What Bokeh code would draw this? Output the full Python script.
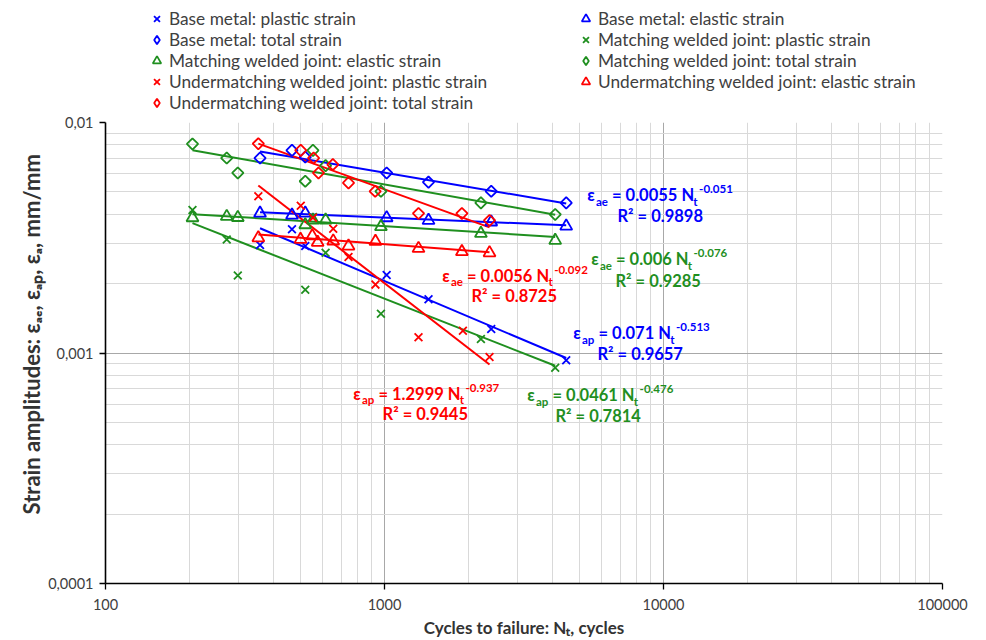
import numpy as np
from bokeh.plotting import figure
from bokeh.layouts import column
from bokeh.models import Label, Legend, LegendItem, FixedTicker, CustomJSTickFormatter
from bokeh.embed import file_html
from bokeh.resources import INLINE

# ---------------- data ----------------
base_n = [358, 466, 520, 1018, 1438, 2413, 4480]
base_plastic = [0.00294, 0.00344, 0.00291, 0.00218, 0.00171, 0.00127, 0.00093]
base_elastic = [0.00404, 0.00396, 0.00404, 0.00386, 0.00376, 0.00370, 0.00355]
base_total = [0.00701, 0.00757, 0.00708, 0.00604, 0.00551, 0.00503, 0.00448]

match_n = [205, 272, 298, 520, 554, 615, 971, 2216, 4091]
match_plastic = [0.00417, 0.00311, 0.00217, 0.00188, 0.00389, 0.00272, 0.00148, 0.00115, 0.000863]
match_elastic = [0.00386, 0.00391, 0.00387, 0.00360, 0.00377, 0.00377, 0.00353, 0.00330, 0.00308]
match_total = [0.00807, 0.00701, 0.00604, 0.00556, 0.00757, 0.00650, 0.00503, 0.00448, 0.00399]

under_plastic_n = [353, 501, 554, 655, 743, 928, 1324, 1910, 2379]
under_plastic = [0.00479, 0.00435, 0.00386, 0.00346, 0.00261, 0.00198, 0.00117, 0.00125, 0.00096]
under_elastic_n = [353, 500, 551, 576, 655, 743, 928, 1324, 1894, 2379]
under_elastic = [0.00316, 0.00311, 0.00322, 0.00302, 0.00306, 0.00291, 0.00305, 0.00284, 0.00275, 0.00272]
under_total_n = [353, 501, 557, 580, 653, 743, 926, 1324, 1894, 2379]
under_total = [0.00809, 0.00757, 0.00701, 0.00604, 0.00657, 0.00547, 0.00503, 0.00403, 0.00403, 0.00376]

x_major = [100, 1000, 10000, 100000]
y_major = [0.0001, 0.001, 0.01]

# trend line equations shown on the chart
eq_series = ["base_e", "match_e", "base_p", "match_p", "under_e", "under_p"]
eq_sub = ["ae", "ae", "ap", "ap", "ae", "ap"]
eq_coef = ["0.0055", "0.006", "0.071", "0.0461", "0.0056", "1.2999"]
eq_exp = ["-0.051", "-0.076", "-0.513", "-0.476", "-0.092", "-0.937"]
eq_r2 = ["0.9898", "0.9285", "0.9657", "0.7814", "0.8725", "0.9445"]

legend_left = ["Base metal: plastic strain", "Base metal: total strain",
               "Matching welded joint: elastic strain",
               "Undermatching welded joint: plastic strain",
               "Undermatching welded joint: total strain"]
legend_right = ["Base metal: elastic strain", "Matching welded joint: plastic strain",
                "Matching welded joint: total strain",
                "Undermatching welded joint: elastic strain"]

# ---------------- styles / layout ----------------
BLUE = "#0000FF"
GREEN = "#1F8F1F"
RED = "#FF0000"
FONT = "Lato"
TXT = "#404040"
TITLE = "#333333"

eq_colors = [BLUE, GREEN, BLUE, GREEN, RED, RED]
eq_pos = [(5327, 0.00484), (5507, 0.002552), (4746, 0.001218),
          (3247, 0.0006553), (1610, 0.002162), (772, 0.0006665)]
r2_pos = [(9732, 0.003926), (9572, 0.002056), (8251, 0.000992),
          (5832, 0.0005317), (2917, 0.001772), (1400, 0.0005463)]

# ---------------- main plot ----------------
p = figure(x_axis_type="log", y_axis_type="log",
           x_range=(100, 100000), y_range=(0.0001, 0.01),
           frame_width=837, frame_height=461,
           min_border_left=105, min_border_right=44,
           min_border_top=9, min_border_bottom=57,
           output_backend="svg", toolbar_location=None)
p.outline_line_color = None
p.background_fill_color = "white"

fmt = CustomJSTickFormatter(code="""
const e = Math.round(Math.log10(tick));
if (e >= 0) { return String(Math.round(tick)); }
return "0," + "0".repeat(-e - 1) + "1";
""")

def minors(majors):
    out = []
    for m in majors[:-1]:
        out += [k * m for k in range(2, 10)]
    return out

p.xaxis[0].ticker = FixedTicker(ticks=x_major, minor_ticks=minors(x_major))
p.yaxis[0].ticker = FixedTicker(ticks=y_major, minor_ticks=minors(y_major))
for ax in (p.xaxis[0], p.yaxis[0]):
    ax.formatter = fmt
    ax.axis_line_color = "black"
    ax.axis_line_width = 1.6
    ax.major_tick_line_color = "black"
    ax.major_tick_line_width = 1.3
    ax.major_tick_in = 0
    ax.major_tick_out = 6
    ax.minor_tick_line_color = None
    ax.major_label_text_font = FONT
    ax.major_label_text_font_size = "14.5px"
    ax.major_label_text_color = TXT
    ax.axis_label_text_font = FONT
    ax.axis_label_text_font_style = "bold"
    ax.axis_label_text_color = TITLE

p.yaxis.major_label_standoff = 6
p.xaxis.major_label_standoff = 9
p.xaxis.axis_label = "Cycles to failure: N\u209c, cycles"
p.xaxis.axis_label_text_font_size = "17px"
p.xaxis.axis_label_standoff = 4
p.yaxis.axis_label = ("\u00a0" * 7 +
                      "Strain amplitudes: \u03b5\u2090\u2091, \u03b5\u2090\u209a, \u03b5\u2090, mm/mm")
p.yaxis.axis_label_text_font_size = "22px"
p.yaxis.axis_label_standoff = 0

for g in (p.xgrid[0], p.ygrid[0]):
    g.grid_line_color = "#a8a8a8"
    g.grid_line_width = 1
    g.minor_grid_line_color = "#d9d9d9"
    g.minor_grid_line_width = 1

# ---------------- trend lines ----------------
def power_line(n, a, b, color):
    xs = np.array([min(n), max(n)], dtype=float)
    p.line(xs, a * xs ** b, line_color=color, line_width=2)

def fit_line(n, v, color):
    b, loga = np.polyfit(np.log10(n), np.log10(v), 1)
    power_line(n, 10 ** loga, b, color)

series_n = {"base_e": base_n, "base_p": base_n, "match_e": match_n, "match_p": match_n,
            "under_e": under_elastic_n, "under_p": under_plastic_n}
series_c = {"base_e": BLUE, "base_p": BLUE, "match_e": GREEN, "match_p": GREEN,
            "under_e": RED, "under_p": RED}
for key, coef, ex in zip(eq_series, eq_coef, eq_exp):
    power_line(series_n[key], float(coef), float(ex), series_c[key])
fit_line(base_n, base_total, BLUE)
fit_line(match_n, match_total, GREEN)
fit_line(under_total_n, under_total, RED)

# ---------------- markers ----------------
MK = {"x": dict(marker="x", size=11),
      "tri": dict(marker="triangle", size=12, fill_color=None),
      "dia": dict(marker="square", angle=np.pi / 4, size=8, fill_color=None)}
# legend keys cannot be rotated, so the legend uses Bokeh's own diamond
MK_LEG = dict(MK, dia=dict(marker="diamond", size=12, fill_color=None))

def mark(fig, n, v, kind, c, styles=MK):
    return fig.scatter(n, v, line_color=c, line_width=1.8, **styles[kind])

series = [  # (label, n, values, kind, colour)
    ("Base metal: plastic strain", base_n, base_plastic, "x", BLUE),
    ("Base metal: elastic strain", base_n, base_elastic, "tri", BLUE),
    ("Base metal: total strain", base_n, base_total, "dia", BLUE),
    ("Matching welded joint: plastic strain", match_n, match_plastic, "x", GREEN),
    ("Matching welded joint: elastic strain", match_n, match_elastic, "tri", GREEN),
    ("Matching welded joint: total strain", match_n, match_total, "dia", GREEN),
    ("Undermatching welded joint: plastic strain", under_plastic_n, under_plastic, "x", RED),
    ("Undermatching welded joint: elastic strain", under_elastic_n, under_elastic, "tri", RED),
    ("Undermatching welded joint: total strain", under_total_n, under_total, "dia", RED),
]
for lab, n, v, kind, c in series:
    mark(p, n, v, kind, c)

# ---------------- equation annotations ----------------
W = {"0": .58, "1": .58, "2": .58, "3": .58, "4": .58, "5": .58, "6": .58, "7": .58,
     "8": .58, "9": .58, ".": .25, " ": .2, "=": .58, "-": .36, "N": .77, "R": .66,
     "\u00b2": .37, "\u03b5": .47, "a": .52, "e": .53, "p": .57, "t": .37}

def tw(s, size):
    return sum(W.get(ch, .55) for ch in s) * size

FS, SS = 16.5, 11.5
for i in range(6):
    col = eq_colors[i]
    x0, y0 = eq_pos[i]
    main = "= " + eq_coef[i] + " N"
    o_sub = tw("\u03b5", FS) + 1
    o_main = o_sub + tw(eq_sub[i], SS) + 4
    o_t = o_main + tw(main, FS) + 0.5
    o_sup = o_t + tw("t", SS) + 1.5
    pieces = [("\u03b5", 0, 0, FS), (eq_sub[i], o_sub, -6, SS), (main, o_main, 0, FS),
              ("t", o_t, -6, SS), (eq_exp[i], o_sup, 6, SS)]
    for txt, xo, yo, size in pieces:
        p.add_layout(Label(x=x0, y=y0, x_offset=xo, y_offset=yo, text=txt,
                           text_font=FONT, text_font_style="bold", text_font_size=f"{size}px",
                           text_color=col, text_align="left", text_baseline="middle"))
    rx, ry = r2_pos[i]
    p.add_layout(Label(x=rx, y=ry, text="R\u00b2 = " + eq_r2[i],
                       text_font=FONT, text_font_style="bold", text_font_size=f"{FS}px",
                       text_color=col, text_align="center", text_baseline="middle"))

# ---------------- legend strip above the plot ----------------
# the strip's frame is aligned with the main frame by the column layout;
# its glyphs lie outside its (0..1) ranges, so only the legend shows
lf = figure(width=986, height=113, x_range=(0, 1), y_range=(0, 1),
            min_border=0, x_axis_location=None, y_axis_location=None,
            output_backend="svg", toolbar_location=None)
lf.outline_line_color = None
lf.grid.visible = False

strip = {lab: mark(lf, n, v, kind, c, MK_LEG) for lab, n, v, kind, c in series}

def make_legend(labels, loc):
    items = [LegendItem(label=lab, renderers=[strip[lab]]) for lab in labels]
    lg = Legend(items=items, location=loc, orientation="vertical",
                label_text_font=FONT, label_text_font_size="17.3px", label_text_color=TXT,
                glyph_width=21, glyph_height=21, label_height=21, label_standoff=2,
                spacing=0, padding=0, margin=0,
                border_line_color=None, background_fill_alpha=0)
    lf.add_layout(lg)

make_legend(legend_left, (41, 0))
make_legend(legend_right, (470, 21))

open("out.html", "w").write(file_html(column(lf, p, spacing=0), INLINE))
